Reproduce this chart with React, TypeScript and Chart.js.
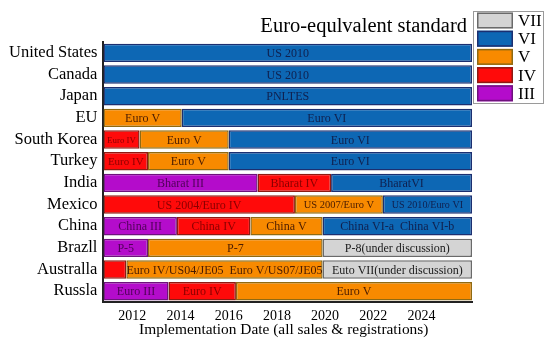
import { useEffect, useRef } from 'react';
import { Chart, registerables } from 'chart.js';

Chart.register(...registerables);

// ---------- data ----------
const X_MIN = 2010.8;
const X_MAX = 2026.1;
const X_TICKS = [2012, 2014, 2016, 2018, 2020, 2022, 2024];
const X_TITLE = 'Implementation Date (all sales & registrations)';
const CHART_TITLE = 'Euro-equlvalent standard';

const COUNTRIES = [
  'United States', 'Canada', 'Japan', 'EU', 'South Korea', 'Turkey',
  'India', 'Mexico', 'China', 'Brazll', 'Australla', 'Russla',
];

const LEVELS = ['VII', 'VI', 'V', 'IV', 'III'];

type Span = [number, number] | null;

const VII_SPANS: Span[] = [null, null, null, null, null, null, null, null, null, [2019.9, X_MAX], [2019.9, X_MAX], null];
const VII_LABELS = ['', '', '', '', '', '', '', '', '', 'P-8(under discussion)', 'Euto VII(under discussion)', ''];

const VI_SPANS: Span[] = [
  [X_MIN, X_MAX], [X_MIN, X_MAX], [X_MIN, X_MAX], [2014.05, X_MAX], [2016.0, X_MAX], [2016.0, X_MAX],
  [2020.25, X_MAX], [2022.4, X_MAX], [2019.9, X_MAX], null, null, null,
];
const VI_LABELS = ['US 2010', 'US 2010', 'PNLTES', 'Euro VI', 'Euro VI', 'Euro VI', 'BharatVI', 'US 2010/Euro VI', 'China VI-a  China VI-b', '', '', ''];

const V_SPANS: Span[] = [
  null, null, null, [X_MIN, 2014.05], [2012.3, 2016.0], [2012.65, 2016.0],
  null, [2018.75, 2022.4], [2016.9, 2019.9], [2012.65, 2019.9], [2011.75, 2019.9], [2016.3, X_MAX],
];
const V_LABELS = ['', '', '', 'Euro V', 'Euro V', 'Euro V', '', 'US 2007/Euro V', 'China V', 'P-7', 'Euro IV/US04/JE05  Euro V/US07/JE05', 'Euro V'];

const IV_SPANS: Span[] = [
  null, null, null, null, [X_MIN, 2012.3], [X_MIN, 2012.65],
  [2017.2, 2020.25], [X_MIN, 2018.75], [2013.85, 2016.9], null, [X_MIN, 2011.75], [2013.5, 2016.3],
];
const IV_LABELS = ['', '', '', '', 'Euro IV', 'Euro IV', 'Bharat IV', 'US 2004/Euro IV', 'China IV', '', '', 'Euro IV'];

const III_SPANS: Span[] = [
  null, null, null, null, null, null,
  [X_MIN, 2017.2], null, [X_MIN, 2013.85], [X_MIN, 2012.65], null, [X_MIN, 2013.5],
];
const III_LABELS = ['', '', '', '', '', '', 'Bharat III', '', 'China III', 'P-5', '', 'Euro III'];

// ---------- styles ----------
const FILL = ['#d4d4d4', '#0d67b4', '#f88a00', '#ff0a0a', '#b40ccb'];
const EDGE = ['#6a6a6a', '#1c2f70', '#8f6a12', '#8e1a12', '#6e127c'];
const TEXT = ['#1a1a1a', '#10204e', '#4a1c00', '#8a0000', '#500058'];
const SERIF = "'Liberation Serif', 'DejaVu Serif', serif";

const SPANS = [VII_SPANS, VI_SPANS, V_SPANS, IV_SPANS, III_SPANS];
const LABELS = [VII_LABELS, VI_LABELS, V_LABELS, IV_LABELS, III_LABELS];

// labels that nearly fill (or overflow) a short segment get a smaller font
function labelSize(ctx: CanvasRenderingContext2D, text: string, width: number) {
  ctx.font = `12px ${SERIF}`;
  const w = ctx.measureText(text).width;
  if (w <= width - 10 || text.length > 30) return 12;
  return Math.max(8, (12 * width * 0.8) / w);
}

const segmentLabels = {
  id: 'segmentLabels',
  afterDatasetsDraw(chart: any) {
    const ctx = chart.ctx;
    ctx.save();
    chart.data.datasets.forEach((ds: any, di: number) => {
      const meta = chart.getDatasetMeta(di);
      meta.data.forEach((el: any, i: number) => {
        const text = ds.segLabels[i];
        if (!text) return;
        const { x, base, y } = el.getProps(['x', 'base', 'y'], true);
        const cx = (x + base) / 2;
        const size = labelSize(ctx, text, Math.abs(x - base));
        ctx.font = `${size}px ${SERIF}`;
        ctx.fillStyle = TEXT[di];
        ctx.textAlign = 'center';
        ctx.textBaseline = 'middle';
        ctx.fillText(text, cx, y + 1);
      });
    });
    ctx.restore();
  },
};

const titleAndLegend = {
  id: 'titleAndLegend',
  afterDraw(chart: any) {
    const ctx = chart.ctx;
    const area = chart.chartArea;
    ctx.save();
    // chart title
    ctx.font = `20.5px ${SERIF}`;
    ctx.fillStyle = '#000';
    ctx.textAlign = 'right';
    ctx.textBaseline = 'alphabetic';
    ctx.fillText(CHART_TITLE, area.right - 5, 32);
    // x axis title
    ctx.font = `15.4px ${SERIF}`;
    ctx.textAlign = 'center';
    ctx.textBaseline = 'middle';
    ctx.fillText(X_TITLE, (area.left + area.right) / 2 - 4, area.bottom + 28);
    // legend box
    const bx = area.right + 1;
    const by = 11;
    const bw = 70;
    const bh = 92;
    ctx.fillStyle = '#fff';
    ctx.fillRect(bx, by, bw, bh);
    ctx.strokeStyle = '#9a9a9a';
    ctx.lineWidth = 1;
    ctx.strokeRect(bx + 0.5, by + 0.5, bw, bh);
    LEVELS.forEach((lv, i) => {
      const sy = by + 1.5 + i * 18.2;
      ctx.fillStyle = FILL[i];
      ctx.fillRect(bx + 4, sy, 36, 16);
      ctx.strokeStyle = EDGE[i];
      ctx.lineWidth = 1.5;
      ctx.strokeRect(bx + 4.75, sy + 0.75, 34.5, 14.5);
      ctx.fillStyle = '#000';
      ctx.font = `17px ${SERIF}`;
      ctx.textAlign = 'left';
      ctx.textBaseline = 'middle';
      ctx.fillText(lv, bx + 45, sy + 9);
    });
    ctx.restore();
  },
};

export default function App() {
  const ref = useRef<HTMLCanvasElement>(null);
  useEffect(() => {
    document.body.style.margin = '0';
    const chart = new Chart(ref.current as HTMLCanvasElement, {
      type: 'bar',
      data: {
        labels: COUNTRIES,
        datasets: LEVELS.map((lv, i) => ({
          label: lv,
          data: SPANS[i] as any,
          segLabels: LABELS[i],
          backgroundColor: FILL[i],
          borderColor: EDGE[i],
          borderWidth: 1.5,
          borderSkipped: false,
          grouped: false,
          barPercentage: 0.85,
          categoryPercentage: 1,
        })) as any,
      },
      options: {
        indexAxis: 'y',
        responsive: false,
        animation: false,
        layout: { padding: { top: 42, right: 78, left: 3, bottom: 12 } },
        plugins: {
          legend: { display: false },
          title: { display: false },
          tooltip: { enabled: false },
        },
        scales: {
          x: {
            type: 'linear',
            min: X_MIN,
            max: X_MAX,
            afterBuildTicks: (axis: any) => {
              axis.ticks = X_TICKS.map((v) => ({ value: v }));
            },
            grid: { display: false, drawTicks: false },
            border: { display: true, color: '#222', width: 2 },
            ticks: {
              color: '#000',
              font: { family: SERIF, size: 14, lineHeight: 1 },
              padding: 7,
              maxRotation: 0,
              callback: (v: any) => String(v),
            },
          },
          y: {
            type: 'category',
            grid: { display: false, drawTicks: false },
            border: { display: true, color: '#222', width: 2 },
            ticks: {
              color: '#000',
              font: { family: SERIF, size: 16.5 },
              padding: 6,
              autoSkip: false,
            },
          },
        },
      },
      plugins: [segmentLabels, titleAndLegend],
    } as any);
    return () => chart.destroy();
  }, []);
  return (
    <div style={{ width: 550, height: 342 }}>
      <canvas ref={ref} width={550} height={342} style={{ display: 'block' }} />
    </div>
  );
}
